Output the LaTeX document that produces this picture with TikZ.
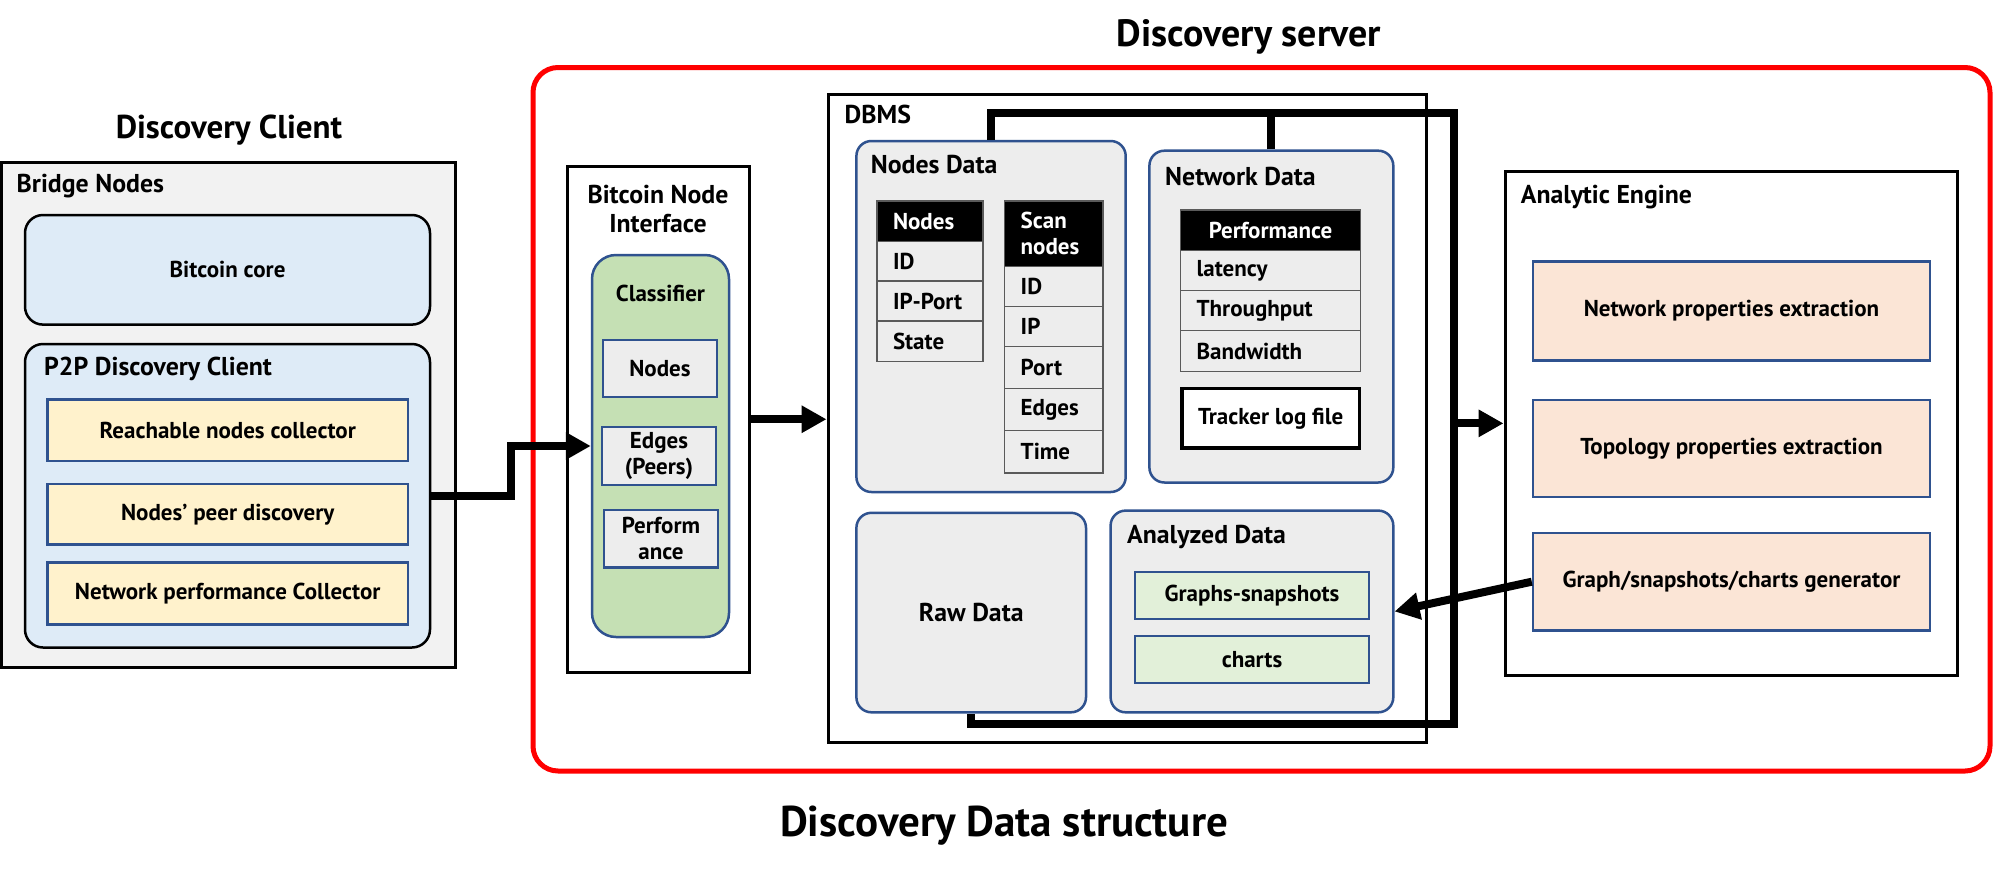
\documentclass[tikz,border=0pt]{standalone}
\usepackage{fontspec}
\setmainfont{PT Sans}
\usetikzlibrary{arrows.meta}
\definecolor{bnav}{HTML}{2F528F}
\definecolor{gbg}{HTML}{F2F2F2}
\definecolor{lblue}{HTML}{DEEBF7}
\definecolor{yel}{HTML}{FFF2CC}
\definecolor{clfgreen}{HTML}{C5E0B4}
\definecolor{lgrey}{HTML}{EDEDED}
\definecolor{lgreen}{HTML}{E2F0D9}
\definecolor{peach}{HTML}{FBE5D6}
\definecolor{cellgrey}{HTML}{5A5A5A}
\newcommand\fTitleA{\fontsize{38}{44}\selectfont\bfseries}
\newcommand\fTitleB{\fontsize{43}{50}\selectfont\bfseries}
\newcommand\fClient{\fontsize{33}{38}\selectfont\bfseries}
\newcommand\fHead{\fontsize{25.8}{29}\selectfont\bfseries}
\newcommand\fTxt{\fontsize{23}{26}\selectfont\bfseries}
\newcommand\rbox[7]{\node[#6, minimum width={(#4)-(#2)}, minimum height={(#5)-(#3)}] (#1) at ({((#2)+(#4))/2},{((#3)+(#5))/2}) {#7};}
\newcommand\cell[7]{\node[#6, minimum width={(#4)-(#2)}, minimum height={(#5)-(#3)}, text width={(#4)-(#2)-32}, inner xsep=16pt, inner ysep=0pt] (#1) at ({((#2)+(#4))/2},{((#3)+(#5))/2}) {#7};}
\tikzset{
  ybox/.style={draw=bnav, line width=2.5pt, fill=yel, font=\fTxt, inner sep=0pt},
  gbox/.style={draw=bnav, line width=2.5pt, fill=lgrey, font=\fTxt, align=center, inner sep=0pt},
  dbbox/.style={draw=bnav, line width=2.5pt, fill=lgrey, rounded corners=15pt, inner sep=0pt},
  lgbox/.style={draw=bnav, line width=2.5pt, fill=lgreen, font=\fTxt, inner sep=0pt},
  pbox/.style={draw=bnav, line width=2.5pt, fill=peach, font=\fTxt, inner sep=0pt},
  tcell/.style={draw=cellgrey, line width=1.3pt, fill=lgrey, font=\fTxt, align=left},
  thead/.style={draw=cellgrey, line width=1.3pt, fill=black, text=white, font=\fTxt, align=left},
  heading/.style={font=\fHead, inner sep=0pt, anchor=base west},
  conn/.style={line width=8pt, -{Triangle[length=25pt,width=26pt]}},
  loopline/.style={line width=8pt},
}
\begin{document}
\begin{tikzpicture}[x=1pt,y=-1pt]
\useasboundingbox (0,0) rectangle (1994,873);
\fill[white] (0,0) rectangle (1994,873);

% titles
\node[font=\fClient, inner sep=0pt, anchor=base] (tclient) at (229,138.3) {Discovery Client};
\node[font=\fTitleA, inner sep=0pt, anchor=base] (tserver) at (1249,46) {Discovery server};
\node[font=\fTitleB, inner sep=0pt, anchor=base] (tdata) at (1004,836.7) {Discovery Data structure};

% server frame
\rbox{server}{533}{67.5}{1990}{771}{draw=red, line width=5pt, rounded corners=25pt}{}

% Bridge nodes
\rbox{bridge}{1.5}{162}{455}{667}{draw, line width=3pt, fill=gbg}{}
\node[heading] (tbridge) at (16.5,192.5) {Bridge Nodes};
\rbox{core}{25}{215}{430}{324.6}{draw, line width=2.5pt, rounded corners=18pt, fill=lblue, font=\fTxt}{Bitcoin core}
\rbox{p2p}{25}{344}{430}{647.5}{draw, line width=2.5pt, rounded corners=18pt, fill=lblue}{}
\node[heading] (tp2p) at (44,375) {P2P Discovery Client};
\rbox{reach}{47.5}{399.5}{408}{461}{ybox}{Reachable nodes collector}
\rbox{peer}{47.5}{484}{408}{544.7}{ybox}{Nodes’ peer discovery}
\rbox{netperf}{47.5}{562.4}{408}{624.6}{ybox}{Network performance Collector}

% Bitcoin node interface
\rbox{bni}{567.5}{166}{749}{672.5}{draw, line width=3pt, fill=white}{}
\node[font=\fHead, inner sep=0pt, anchor=base] (tbni1) at (658,203) {Bitcoin Node};
\node[font=\fHead, inner sep=0pt, anchor=base] (tbni2) at (658,232) {Interface};
\rbox{clf}{592}{255}{729}{637}{draw=bnav, line width=2.5pt, rounded corners=24pt, fill=clfgreen}{}
\node[font=\fTxt, inner sep=0pt, anchor=base] (tclf) at (660.5,301) {Classifier};
\rbox{cnodes}{603}{340}{717}{397}{gbox}{Nodes}
\rbox{cedges}{602}{427}{716}{485}{gbox}{Edges\\(Peers)}
\rbox{cperf}{604}{510}{718}{567.6}{gbox}{Perform\\ance}

% DBMS
\rbox{dbms}{828}{94.3}{1426}{742.6}{draw, line width=3pt}{}
\node[heading] (tdbms) at (844.5,123.5) {DBMS};

\rbox{nd}{856.4}{141}{1125.7}{492}{dbbox}{}
\node[heading] (tnd) at (870.6,173) {Nodes Data};
\cell{nh}{877}{201}{983}{241.3}{thead}{Nodes}
\cell{n1}{877}{241.3}{983}{281}{tcell}{ID}
\cell{n2}{877}{281}{983}{321}{tcell}{IP-Port}
\cell{n3}{877}{321}{983}{361.5}{tcell}{State}
\cell{sh}{1004.7}{201}{1103}{266.5}{thead}{Scan\\nodes}
\cell{s1}{1004.7}{266.5}{1103}{306.5}{tcell}{ID}
\cell{s2}{1004.7}{306.5}{1103}{346.7}{tcell}{IP}
\cell{s3}{1004.7}{346.7}{1103}{388.4}{tcell}{Port}
\cell{s4}{1004.7}{388.4}{1103}{430.4}{tcell}{Edges}
\cell{s5}{1004.7}{430.4}{1103}{473}{tcell}{Time}

\rbox{nwd}{1149.4}{150.7}{1393.3}{482.5}{dbbox}{}
\node[heading] (tnwd) at (1165,185) {Network Data};
\cell{ph}{1180.6}{210}{1360.5}{250.5}{thead, align=center}{Performance}
\cell{p1}{1180.6}{250.5}{1360.5}{290.3}{tcell}{latency}
\cell{p2}{1180.6}{290.3}{1360.5}{330.7}{tcell}{Throughput}
\cell{p3}{1180.6}{330.7}{1360.5}{371.4}{tcell}{Bandwidth}
\rbox{trk}{1181.8}{388.4}{1359.7}{448.2}{draw, line width=3.5pt, fill=white, font=\fTxt}{Tracker log file}

\rbox{raw}{856.4}{512.8}{1086}{712.3}{dbbox, font=\fHead}{Raw Data}
\rbox{ana}{1110.6}{510.6}{1393.3}{712.3}{dbbox}{}
\node[heading] (tana) at (1127,543) {Analyzed Data};
\rbox{gsnap}{1135}{571.8}{1369}{619}{lgbox}{Graphs-snapshots}
\rbox{charts}{1135}{636}{1369}{683}{lgbox}{charts}

% Analytic engine
\rbox{ae}{1505}{171}{1957}{675.7}{draw, line width=3pt, fill=white}{}
\node[heading] (tae) at (1520.7,203.3) {Analytic Engine};
\rbox{npe}{1533}{261.5}{1930}{360.7}{pbox}{Network properties extraction}
\rbox{tpe}{1533}{400}{1930}{497}{pbox}{Topology properties extraction}
\rbox{gen}{1533}{533}{1930}{630.4}{pbox}{Graph/snapshots/charts generator}

% connectors
\coordinate (p2pbend) at (511,446);
\draw[conn] (p2p.east) -| (p2pbend) -- (p2pbend -| clf.west);
\draw[conn] (bni.east) -- (bni.east -| dbms.west);
\coordinate (ltop) at (1454,113);
\coordinate (lbot) at (1454,724);
\draw[loopline] (nd.north) -- (nd.north |- ltop) -- (ltop) -- (lbot) -- (raw.south |- lbot) -- (raw.south);
\draw[loopline] (nwd.north) -- (nwd.north |- ltop);
\draw[conn] (ltop |- ae.west) -- (ae.west);
\draw[conn] (gen.west) -- (ana.east);
\end{tikzpicture}
\end{document}
